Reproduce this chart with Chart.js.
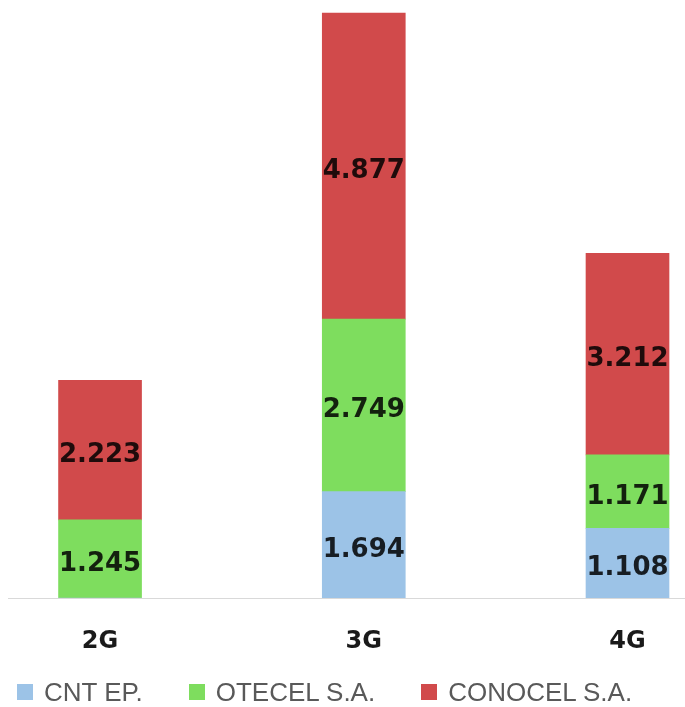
<!DOCTYPE html>
<html>
<head>
<meta charset="utf-8">
<script src="https://cdn.jsdelivr.net/npm/chart.js@4.4.1/dist/chart.umd.min.js"></script>
<style>
    body { margin: 0; background: #fff; }
    .wrap { position: relative; width: 685px; height: 707px; }
    .legend {
        position: absolute; left: 17px; top: 679px;
        display: flex; margin: 0; padding: 0; list-style: none;
        font-family: "Liberation Sans", Arial, sans-serif; font-size: 26px;
        line-height: 26px; color: #595959; white-space: nowrap;
    }
    .legend li { display: flex; align-items: center; margin-right: 46px; }
    .legend span { display: inline-block; width: 16px; height: 16px; margin-right: 11px; }
</style>
</head>
<body>
<div class="wrap">
    <canvas id="myChart" width="685" height="707"></canvas>
    <ul class="legend js-legend"></ul>
</div>
<script>
const tecnologias = ['2G', '3G', '4G'];
const cntEp = [0, 1.694, 1.108];
const otecel = [1.245, 2.749, 1.171];
const conocel = [2.223, 4.877, 3.212];

const puntos = function (valores) {
    return valores.map((v, i) => ({ x: i, y: v }));
};

// numbers in the middle of every segment
const etiquetasValor = {
    id: 'etiquetasValor',
    afterDatasetsDraw(chart) {
        const ctx = chart.ctx;
        ctx.save();
        ctx.font = 'bold 26px "DejaVu Sans"';
        ctx.fillStyle = 'rgba(0, 0, 0, 0.85)';
        ctx.textAlign = 'center';
        ctx.textBaseline = 'alphabetic';
        chart.data.datasets.forEach((ds, i) => {
            chart.getDatasetMeta(i).data.forEach((bar, j) => {
                const v = ds.data[j].y;
                if (!v) return;
                const { x, y, base } = bar.getProps(['x', 'y', 'base'], true);
                // digits sit a bit under the middle of the segment
                ctx.fillText(v.toFixed(3), x, (y + base) / 2 + 12);
            });
        });
        ctx.restore();
    }
};

// legend as html under the canvas
const leyendaHtml = {
    id: 'leyendaHtml',
    afterUpdate(chart) {
        const ul = document.querySelector('.js-legend');
        ul.innerHTML = '';
        const items = chart.options.plugins.legend.labels.generateLabels(chart);
        for (const item of items) {
            const li = document.createElement('li');
            const caja = document.createElement('span');
            caja.style.background = item.fillStyle;
            li.appendChild(caja);
            li.appendChild(document.createTextNode(item.text));
            ul.appendChild(li);
        }
    }
};

const drawChart = function () {
    let ctx = document.getElementById('myChart').getContext('2d');

    let chart = new Chart(ctx, {
        type: 'bar',
        data: {
            datasets: [
                { label: 'CNT EP.', data: puntos(cntEp), backgroundColor: '#9cc3e7' },
                { label: 'OTECEL S.A.', data: puntos(otecel), backgroundColor: '#7edd5e' },
                { label: 'CONOCEL S.A.', data: puntos(conocel), backgroundColor: '#d14a4b' }
            ]
        },
        options: {
            responsive: false,
            animation: false,
            layout: { padding: { left: 8, right: 0, top: 0, bottom: 0 } },
            datasets: {
                bar: { grouped: false, barThickness: 83, borderWidth: 0 }
            },
            plugins: {
                legend: { display: false },
                tooltip: { enabled: false }
            },
            scales: {
                x: {
                    type: 'linear',
                    offset: false,
                    min: -0.349,
                    max: 2.218,
                    grid: { display: false, drawTicks: false },
                    border: { color: '#d9d9d9', width: 1 },
                    ticks: {
                        stepSize: 1,
                        includeBounds: false,
                        autoSkip: false,
                        maxRotation: 0,
                        padding: 29,
                        color: '#1a1a1a',
                        font: { family: 'DejaVu Sans', weight: 'bold', size: 24 },
                        callback: (v) => tecnologias[v] ?? ''
                    },
                    afterFit: (scale) => { scale.height = 109; }
                },
                y: {
                    display: false,
                    stacked: true,
                    min: 0,
                    max: 9.527
                }
            }
        },
        plugins: [etiquetasValor, leyendaHtml]
    });
};

document.addEventListener('DOMContentLoaded', function () {
    drawChart();
});
</script>
</body>
</html>
